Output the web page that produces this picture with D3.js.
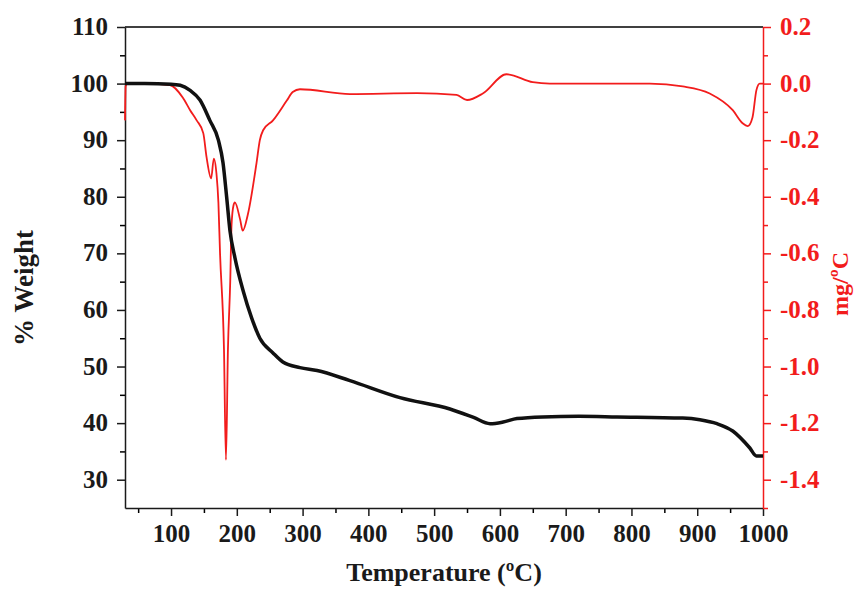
<!DOCTYPE html>
<html><head><meta charset="utf-8">
<script src="https://cdn.jsdelivr.net/npm/d3@7"></script>
<style>body{margin:0;background:#fff}svg{display:block}</style>
</head><body>
<script>
// Weight (%) vs temperature (°C)
const tgTemp   = [30, 60, 100, 114, 129, 144, 159, 172, 179, 184.5, 189.6, 197, 209.6, 222.5, 235, 255, 270, 296, 322, 372, 448, 524, 560, 585, 605, 626, 665, 720, 778, 878, 904, 930, 954, 980, 990, 1000];
const tgWeight = [100, 100, 99.9, 99.7, 98.8, 97.1, 93.5, 90, 86, 80, 74, 69.3, 63.4, 58.6, 55, 52.4, 50.8, 49.8, 49.3, 47.5, 44.5, 42.5, 41.0, 39.9, 40.2, 40.8, 41.1, 41.2, 41.1, 40.9, 40.6, 39.9, 38.6, 35.6, 34.2, 34.2];
// DTG (mg/°C) vs temperature (°C)
const dtgTemp  = [30, 31, 33, 60, 98, 118, 129, 139, 149, 154, 161, 165, 169, 172, 174.5, 180.5, 183.5, 186.5, 190, 192, 195, 197, 205, 209, 217, 230, 235, 240, 255, 276, 285, 296, 372, 474, 534, 550, 574, 610, 650, 676, 752, 828, 878, 919, 954, 969, 977, 984, 990, 995, 1000];
const dtgValue = [-0.13, -0.01, 0, 0, -0.005, -0.05, -0.094, -0.13, -0.175, -0.26, -0.335, -0.265, -0.317, -0.42, -0.6, -0.94, -1.33, -0.94, -0.7, -0.5, -0.43, -0.42, -0.48, -0.52, -0.46, -0.28, -0.2, -0.165, -0.13, -0.06, -0.03, -0.02, -0.037, -0.034, -0.04, -0.058, -0.035, 0.033, 0.005, 0.0, 0.0, 0.0, -0.01, -0.035, -0.094, -0.14, -0.15, -0.12, -0.023, 0.0, 0.0];
const xTicks = [100, 200, 300, 400, 500, 600, 700, 800, 900, 1000];
const yLeftTicks = [30, 40, 50, 60, 70, 80, 90, 100, 110];
const yRightTicks = [-1.4, -1.2, -1.0, -0.8, -0.6, -0.4, -0.2, 0.0, 0.2];

const W = 854, H = 589;
const m = {l: 125, r: 763, t: 27, b: 508};
const RED = "#f21c1c";
const FONT = "'Liberation Serif','Times New Roman',serif";

const svg = d3.select("body").append("svg").attr("width", W).attr("height", H);

const x = d3.scaleLinear().domain([30, 1000]).range([m.l, m.r]);
const yL = d3.scaleLinear().domain([25, 110]).range([m.b, m.t]);
const yR = d3.scaleLinear().domain([-1.5, 0.2]).range([m.b, m.t]);

// top frame line
svg.append("line").attr("x1", m.l).attr("x2", m.r).attr("y1", m.t).attr("y2", m.t)
  .attr("stroke", "#000").attr("stroke-width", 1.3);

function styleAxis(g, color) {
  g.select(".domain").attr("stroke", color).attr("stroke-width", 1.5);
  g.selectAll(".tick line").attr("stroke", color).attr("stroke-width", 1.5);
  g.selectAll("text").attr("fill", color).attr("font-family", FONT)
    .attr("font-weight", "bold").attr("font-size", 25);
}

// minor ticks
const xMinor = d3.range(50, 1001, 50).filter(v => v % 100 !== 0);
const gxm = svg.append("g").attr("transform", `translate(0,${m.b})`)
  .call(d3.axisBottom(x).tickValues(xMinor).tickSize(5).tickFormat(""));
gxm.select(".domain").remove();
gxm.selectAll("line").attr("stroke", "#000").attr("stroke-width", 1.5);

const gx = svg.append("g").attr("transform", `translate(0,${m.b})`)
  .call(d3.axisBottom(x).tickValues(xTicks).tickSize(8).tickSizeOuter(0).tickPadding(8).tickFormat(d3.format("d")));
styleAxis(gx, "#1a1a1a");

const yLMinor = d3.range(35, 110, 10);
const gylm = svg.append("g").attr("transform", `translate(${m.l},0)`)
  .call(d3.axisLeft(yL).tickValues(yLMinor).tickSize(5).tickFormat(""));
gylm.select(".domain").remove();
gylm.selectAll("line").attr("stroke", "#000").attr("stroke-width", 1.5);

const gyl = svg.append("g").attr("transform", `translate(${m.l},0)`)
  .call(d3.axisLeft(yL).tickValues(yLeftTicks).tickSize(8).tickSizeOuter(0).tickPadding(9));
styleAxis(gyl, "#1a1a1a");
gyl.selectAll("text").attr("dy", "0.3em");

const yRMinor = [-1.5, -1.3, -1.1, -0.9, -0.7, -0.5, -0.3, -0.1, 0.1];
const gyrm = svg.append("g").attr("transform", `translate(${m.r},0)`)
  .call(d3.axisRight(yR).tickValues(yRMinor).tickSize(5).tickFormat(""));
gyrm.select(".domain").remove();
gyrm.selectAll("line").attr("stroke", RED).attr("stroke-width", 1.5);

const gyr = svg.append("g").attr("transform", `translate(${m.r},0)`)
  .call(d3.axisRight(yR).tickValues(yRightTicks).tickSize(8).tickSizeOuter(0).tickPadding(9)
    .tickFormat(d => (d < 0 ? "-" : "") + Math.abs(d).toFixed(1)));
styleAxis(gyr, RED);
gyr.selectAll("text").attr("dy", "0.3em");

// curves
const tg = tgTemp.map((t, i) => [t, tgWeight[i]]);
const dtg = dtgTemp.map((t, i) => [t, dtgValue[i]]);

svg.append("path").datum(dtg)
  .attr("d", d3.line().x(d => x(d[0])).y(d => yR(d[1])).curve(d3.curveMonotoneX))
  .attr("fill", "none").attr("stroke", RED).attr("stroke-width", 1.8);

svg.append("path").datum(tg)
  .attr("d", d3.line().x(d => x(d[0])).y(d => yL(d[1])).curve(d3.curveMonotoneX))
  .attr("fill", "none").attr("stroke", "#111").attr("stroke-width", 3.5);

// axis titles
svg.append("text").attr("x", 444).attr("y", 581).attr("text-anchor", "middle")
  .attr("font-family", FONT).attr("font-weight", "bold").attr("font-size", 26)
  .attr("fill", "#1a1a1a").text("Temperature (ºC)");

svg.append("text").attr("transform", `translate(33,288) rotate(-90)`).attr("text-anchor", "middle")
  .attr("font-family", FONT).attr("font-weight", "bold").attr("font-size", 27)
  .attr("fill", "#1a1a1a").text("% Weight");

svg.append("text").attr("transform", `translate(848,284) rotate(-90)`).attr("text-anchor", "middle")
  .attr("font-family", FONT).attr("font-weight", "bold").attr("font-size", 24)
  .attr("fill", RED).text("mg/ºC");
</script>
</body></html>
